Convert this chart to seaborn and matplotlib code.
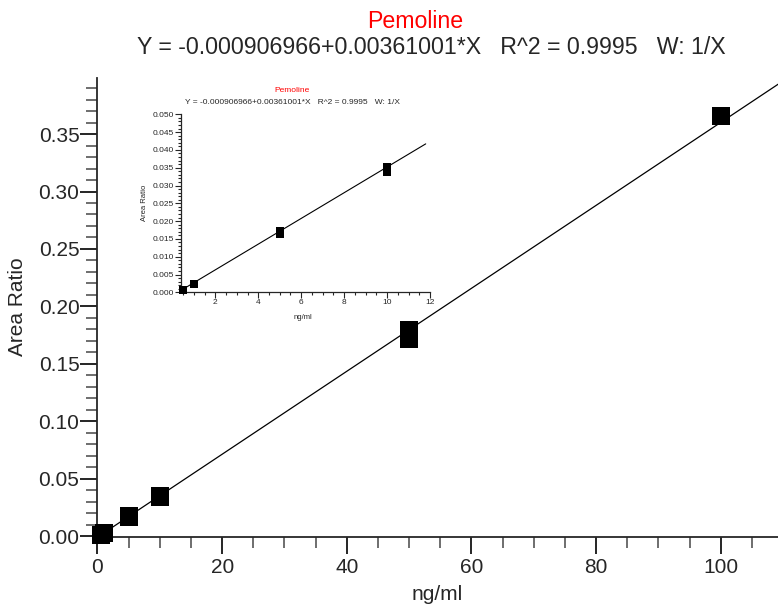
import numpy as np
import pandas as pd
import matplotlib
matplotlib.use("Agg")
import matplotlib.pyplot as plt
import seaborn as sns

# calibration standards
conc = [0.5, 1, 5, 5, 10, 10, 50, 50, 100]
area_ratio = [0.0007, 0.0024, 0.0164, 0.0173, 0.0337, 0.0353, 0.1718, 0.1796, 0.366]

# weighted fit reported by the software
intercept = -0.000906966
slope = 0.00361001
fit_x_main = [0.5, 110]
fit_x_inset = [0.5, 11.8]

title_name = "Pemoline"
title_eq = "Y = -0.000906966+0.00361001*X   R^2 = 0.9995   W: 1/X"

sns.set_style("ticks")
plt.rcParams['font.family'] = ['Liberation Sans', 'DejaVu Sans']

data = pd.DataFrame({"x": conc, "y": area_ratio})
fit_main = pd.DataFrame({"x": fit_x_main})
fit_main["y"] = intercept + slope * fit_main["x"]
fit_inset = pd.DataFrame({"x": fit_x_inset})
fit_inset["y"] = intercept + slope * fit_inset["x"]

fig = plt.figure(figsize=(7.78, 6.05), dpi=100)
W, H = 778, 605

# main plot
ax = fig.add_axes([97.5 / W, 1 - 537.3 / H, 1 - 97.5 / W, (537.3 - 78) / H])
sns.lineplot(data=fit_main, x="x", y="y", ax=ax, color="black", linewidth=0.9)
sns.scatterplot(data=data, x="x", y="y", ax=ax, marker="s", s=150, color="black",
                linewidth=0, zorder=3, clip_on=False)
ax.set_xlim(0, 109.2)
ax.set_ylim(-0.001, 0.3988)
ax.xaxis.set_major_locator(matplotlib.ticker.MultipleLocator(20))
ax.xaxis.set_minor_locator(matplotlib.ticker.MultipleLocator(5))
ax.yaxis.set_major_locator(matplotlib.ticker.MultipleLocator(0.05))
ax.yaxis.set_minor_locator(matplotlib.ticker.MultipleLocator(0.01))
ax.yaxis.set_major_formatter(matplotlib.ticker.FormatStrFormatter("%.2f"))
ax.tick_params(axis="both", which="major", length=12, width=1.2, labelsize=15, color="black")
ax.tick_params(axis="both", which="minor", length=8, width=1.2, color="#555555")
ax.tick_params(axis="y", which="major", pad=1)
ax.tick_params(axis="x", which="major", pad=3)
for s in ["top", "right"]:
    ax.spines[s].set_visible(False)
for s in ["left", "bottom"]:
    ax.spines[s].set_linewidth(1.3)
ax.set_xlabel("")
ax.set_ylabel("")
fig.text(18 / W, 1 - 307 / H, "Area Ratio", rotation=90, fontsize=15,
         ha="center", va="center")
fig.text(437 / W, 1 - 594 / H, "ng/ml", fontsize=15, ha="center", va="center")
fig.text(415 / W, 1 - 22 / H, title_name, fontsize=16.7, color="red",
         ha="center", va="center")
fig.text(431 / W, 1 - 48 / H, title_eq, fontsize=16.7, ha="center", va="center")

# inset zoom on low standards
axi = fig.add_axes([181 / W, 1 - 292.3 / H, (430 - 181) / W, (292.3 - 114.3) / H])
sns.lineplot(data=fit_inset, x="x", y="y", ax=axi, color="black", linewidth=0.8)
sns.scatterplot(data=data[data["x"] <= 10], x="x", y="y", ax=axi, marker="s", s=26,
                color="black", linewidth=0, zorder=3, clip_on=False)
axi.set_xlim(0.4, 12)
axi.set_ylim(0, 0.050)
axi.xaxis.set_major_locator(matplotlib.ticker.MultipleLocator(2))
axi.xaxis.set_minor_locator(matplotlib.ticker.MultipleLocator(0.5))
axi.yaxis.set_major_locator(matplotlib.ticker.MultipleLocator(0.005))
axi.yaxis.set_minor_locator(matplotlib.ticker.MultipleLocator(0.001))
axi.yaxis.set_major_formatter(matplotlib.ticker.FormatStrFormatter("%.3f"))
axi.tick_params(axis="both", which="major", length=4, width=0.8, labelsize=6, pad=1)
axi.tick_params(axis="both", which="minor", length=2.5, width=0.8)
for s in ["top", "right"]:
    axi.spines[s].set_visible(False)
for s in ["left", "bottom"]:
    axi.spines[s].set_linewidth(0.9)
axi.set_xlabel("")
axi.set_ylabel("")
axi.patch.set_alpha(0)
fig.text(145 / W, 1 - 203 / H, "Area Ratio", rotation=90, fontsize=5.5,
         ha="center", va="center")
fig.text(303 / W, 1 - 317 / H, "ng/ml", fontsize=5.5, ha="center", va="center")
fig.text(292 / W, 1 - 91 / H, title_name, fontsize=6, color="red",
         ha="center", va="center")
fig.text(292.5 / W, 1 - 102 / H, title_eq, fontsize=6, ha="center", va="center")

fig.savefig("out.png", dpi=100)
